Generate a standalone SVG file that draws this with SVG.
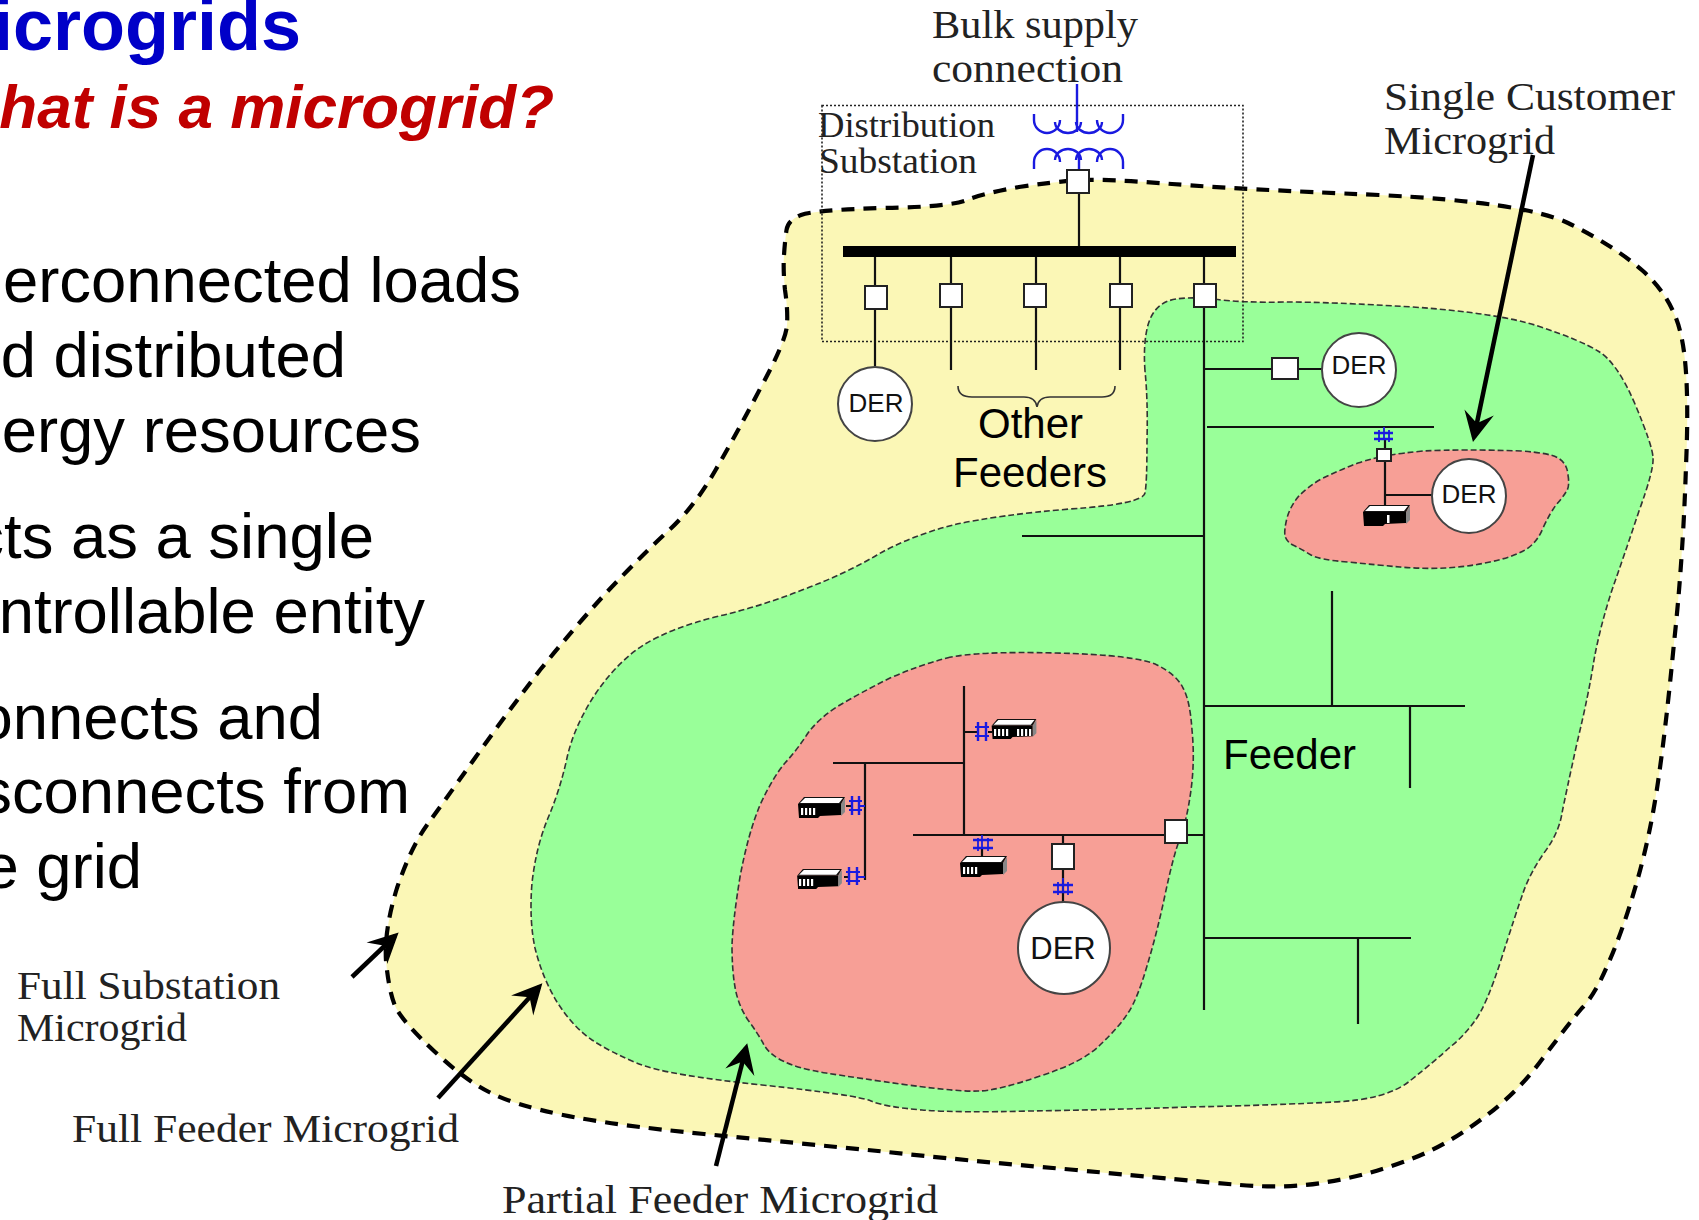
<svg xmlns="http://www.w3.org/2000/svg" xmlns:xlink="http://www.w3.org/1999/xlink" width="1699" height="1220" viewBox="0 0 1699 1220">
<style>
.ser{font-family:"Liberation Serif","DejaVu Serif",serif;fill:#222}
.san{font-family:"Liberation Sans",Arial,sans-serif;fill:#000}
.body{font-size:63.400px;text-anchor:end}
.big{font-size:42px}
.der{font-size:26px;text-anchor:middle;fill:#111}
.blob{stroke:#333;stroke-width:1.6;stroke-dasharray:6 3}
.w{fill:none;stroke:#111;stroke-width:2.2}
.bl{fill:none;stroke:#1a1ae0;stroke-width:2.4}
.sw{fill:#fff;stroke:#222;stroke-width:2}
.c{fill:#fff;stroke:#444;stroke-width:2}
.ar{fill:none;stroke:#000;stroke-width:4.5}
</style>
<defs>
<marker id="head" markerUnits="userSpaceOnUse" markerWidth="40" markerHeight="34" viewBox="0 0 40 34" refX="26" refY="17" orient="auto"><path d="M31,17 L1,2 L12,17 L1,32 Z" fill="#000"/></marker>
<symbol id="load" viewBox="0 0 48 21" overflow="visible">
<path d="M43,7 L47,1 L47,15 L43,19 Z" fill="#888"/>
<path d="M0,7 L43,7 L43,18 L22,19 L20,21 L1,21 Z" fill="#000"/>
<path d="M0,7 L6,0 L47,0 L43,7 Z" fill="#111"/>
<path d="M2,6 L7,1 L45,1 L41,6 Z" fill="#fff"/>
</symbol>
<g id="slots"><rect x="0" y="0" width="2.2" height="7" fill="#fff"/><rect x="4" y="0" width="2.2" height="7" fill="#fff"/><rect x="8" y="0" width="2.2" height="7" fill="#fff"/><rect x="12" y="0" width="2.2" height="7" fill="#fff"/></g>
</defs>

<g id="title">
<text class="san" x="301" y="50" font-size="72" font-weight="700" text-anchor="end" style="fill:#0000c8">icrogrids</text>
<text class="san" x="554" y="128" font-size="62" font-weight="700" font-style="italic" text-anchor="end" style="fill:#c00000">hat is a microgrid?</text>
</g>
<g id="bullets">
<text class="san body" x="521" y="302">erconnected loads</text>
<text class="san body" x="346" y="377">d distributed</text>
<text class="san body" x="421" y="452">ergy resources</text>
<text class="san body" x="374" y="558">cts as a single</text>
<text class="san body" x="425" y="633">ntrollable entity</text>
<text class="san body" x="323" y="739">onnects and</text>
<text class="san body" x="410" y="813">sconnects from</text>
<text class="san body" x="142" y="888">e grid</text>
</g>

<g id="full-substation-microgrid"><path fill="#fbf7b6" stroke="#000" stroke-width="4.200" stroke-dasharray="13 9" d="M784,255 Q785,240 786.5,230 Q788,220 801,215 Q815,210 882,208 Q950,207 967,200 Q985,193 1019,187 Q1053,182 1081,180 Q1110,179 1172,184 Q1235,189 1379,195 Q1523,202 1568,223 Q1613,245 1643,271 Q1673,298 1681,335 Q1690,373 1686,466 Q1683,560 1674,643 Q1666,727 1658,782 Q1650,837 1636,885 Q1622,933 1608,964 Q1595,995 1582,1008 Q1570,1022 1543,1058 Q1517,1094 1479,1121 Q1441,1149 1403,1162 Q1365,1176 1327,1182 Q1289,1189 1240,1185 Q1192,1181 1076,1170 Q960,1160 878,1151 Q796,1143 704,1134 Q612,1125 563,1115 Q514,1105 489,1092 Q465,1080 434,1051 Q404,1023 396,1008 Q389,993 386,961 Q384,930 397,888 Q411,847 427,825 Q443,803 475,758 Q507,713 540,670 Q574,628 606,593 Q639,558 666,533 Q693,509 715,471 Q737,433 761,387 Q786,341 787,325 Q788,310 785,290 Q783,270 784,255 Z"/></g>
<g id="full-feeder-microgrid"><path class="blob" fill="#99ff99" d="M1145,371 Q1143,343 1148,325 Q1153,307 1168,301 Q1183,296 1213,299 Q1243,303 1286,302 Q1330,302 1413,307 Q1497,313 1538,326 Q1580,340 1598,351 Q1617,362 1635,404 Q1653,447 1653,458 Q1654,470 1639,511 Q1625,553 1612,590 Q1600,627 1594,660 Q1589,693 1577,743 Q1566,793 1562,813 Q1559,833 1544,853 Q1530,873 1523,893 Q1516,913 1501,960 Q1486,1007 1474,1022 Q1463,1037 1449,1048 Q1436,1060 1411,1080 Q1387,1100 1333,1102 Q1280,1105 1190,1107 Q1100,1110 1030,1111 Q960,1113 922,1110 Q885,1107 871,1101 Q857,1095 762,1085 Q667,1075 639,1064 Q612,1053 592,1040 Q573,1027 557,1002 Q542,977 535,948 Q529,920 532,883 Q536,847 548,818 Q560,790 567,758 Q574,726 596,693 Q618,661 645,644 Q672,628 715,617 Q759,607 802,590 Q845,574 877,555 Q910,536 953,525 Q997,515 1070,509 Q1143,504 1145,493 Q1147,483 1147,441 Q1148,400 1145,371 Z"/></g>
<g id="partial-feeder-microgrid"><path class="blob" fill="#f79f96" d="M947,658 Q975,651 1056,653 Q1137,655 1157,665 Q1177,675 1183,688 Q1190,700 1192,730 Q1195,760 1191,790 Q1187,820 1180,838 Q1173,857 1165,895 Q1157,933 1147,966 Q1137,1000 1128,1013 Q1119,1027 1101,1044 Q1084,1062 1040,1076 Q997,1091 978,1091 Q960,1092 908,1085 Q857,1078 826,1073 Q796,1068 783,1061 Q770,1055 764,1045 Q759,1035 748,1020 Q738,1005 735,987 Q732,970 732,945 Q733,920 740,877 Q748,834 760,805 Q773,777 785,763 Q797,750 808,733 Q820,717 840,705 Q860,693 890,678 Q920,665 947,658Z"/></g>
<g id="single-customer-microgrid"><path class="blob" fill="#f79f96" d="M1390,455 Q1403,453 1423,451 Q1443,450 1468,450 Q1493,450 1521,451 Q1550,453 1558,458 Q1567,463 1568,475 Q1570,487 1566,492 Q1563,497 1556,505 Q1550,513 1543,528 Q1537,543 1525,550 Q1513,557 1490,562 Q1467,567 1445,568 Q1423,569 1400,567 Q1377,565 1348,562 Q1320,560 1311,555 Q1303,550 1295,546 Q1287,543 1285,536 Q1284,530 1287,518 Q1290,507 1298,497 Q1307,487 1323,478 Q1340,470 1358,463 Q1377,457 1390,455Z"/></g>

<g id="substation-box"><rect x="822" y="105.500" width="421" height="236" fill="none" stroke="#222" stroke-width="1.6" stroke-dasharray="2 2"/></g>

<g id="connectors">
<path class="w" d="M1079,193V246M875,257V366M951,257V370M1036,257V370M1120,257V370M1204,257V1010"/>
<path class="w" d="M1204,369H1322M1207,427H1434M1022,536H1204M1204,706H1465M1332,591V706M1410,706V788M1204,938H1411M1358,938V1024"/>
<path class="w" d="M913,835H1204M964,686V835M833,763H964M865,763V880M964,732H978M988,732H992M846,806H852M844,877H849M982,849V856M1063,835V902"/>
<path class="w" d="M1385,439V505M1385,495H1432"/>
<path d="M958,386 C958,394 964,397 972,397 H1024 C1032,397 1036,400 1037,407 C1038,400 1042,397 1050,397 H1102 C1110,397 1115,394 1115,386" fill="none" stroke="#333" stroke-width="1.6"/>
<path class="ar" marker-end="url(#head)" d="M1533,155L1474,437"/>
<path class="ar" marker-end="url(#head)" d="M352,977L395,936"/>
<path class="ar" marker-end="url(#head)" d="M438,1098L539,987"/>
<path class="ar" marker-end="url(#head)" d="M716,1166L746,1048"/>
</g>

<g id="transformer">
<path class="bl" d="M1077,84V132M1034,114V120a13,13 0 0 0 26,0M1055,122a13,11 0 0 0 26,0M1076,122a13,11 0 0 0 26,0M1097,120a13,13 0 0 0 26,0V114"/>
<path class="bl" d="M1034,169V162a13,13 0 0 1 26,0M1055,160a13,11 0 0 1 26,0M1076,160a13,11 0 0 1 26,0M1097,162a13,13 0 0 1 26,0V169M1079,152V170"/>
</g>

<g id="bus"><rect x="843" y="246" width="393" height="11" fill="#000"/></g>
<g id="switch-main"><rect class="sw" x="1067" y="170" width="22" height="23"/></g>
<g id="switch-f1"><rect class="sw" x="865" y="286" width="22" height="23"/></g>
<g id="switch-f2"><rect class="sw" x="940" y="284" width="22" height="23"/></g>
<g id="switch-f3"><rect class="sw" x="1024" y="284" width="22" height="23"/></g>
<g id="switch-f4"><rect class="sw" x="1110" y="284" width="22" height="23"/></g>
<g id="switch-f5"><rect class="sw" x="1194" y="284" width="22" height="23"/></g>
<g id="switch-der2"><rect class="sw" x="1272" y="358" width="26" height="21"/></g>
<g id="switch-partial"><rect class="sw" x="1165" y="820" width="22" height="23"/></g>
<g id="switch-der4"><rect class="sw" x="1052" y="844" width="22" height="25"/></g>
<g id="switch-single"><rect class="sw" x="1377" y="449" width="14" height="12"/></g>

<g id="der-1"><circle class="c" cx="875" cy="404" r="37"/><text class="san der" x="876" y="412">DER</text></g>
<g id="der-2"><circle class="c" cx="1359" cy="370" r="37"/><text class="san der" x="1359" y="374">DER</text></g>
<g id="der-3"><circle class="c" cx="1469" cy="496" r="37"/><text class="san der" x="1469" y="503">DER</text></g>
<g id="der-4"><circle class="c" cx="1064" cy="948" r="46"/><text class="san der" x="1063" y="959" style="font-size:31px">DER</text></g>

<g id="couplers" fill="none" stroke="#1a1ae0" stroke-width="2.4">
<path d="M978,722V741M986,722V741M852,796V815M859,796V815M849,867V885M857,867V885M973,840H993M973,848H993M1053,885H1073M1053,892H1073M1374,433H1393M1374,439H1393"/>
<path stroke-width="1.800" d="M975,727h14M975,736h14M849,801h13M849,810h13M859,806H865M846,872h14M846,881h14M857,877H865M982,835V849M978,838v13M988,838v13M1063,878V892M1058,882v13M1068,882v13M1384,427V439M1379,430v12M1389,430v12"/>
</g>

<g id="load-1"><use href="#load" x="991" y="719" width="47" height="20"/><use href="#slots" x="994" y="729"/><use href="#slots" x="1017" y="729"/></g>
<g id="load-2"><use href="#load" x="798" y="797" width="48" height="21"/><use href="#slots" x="801" y="808"/></g>
<g id="load-3"><use href="#load" x="796" y="869" width="48" height="20"/><use href="#slots" x="799" y="879"/></g>
<g id="load-4"><use href="#load" x="960" y="856" width="48" height="21"/><use href="#slots" x="963" y="867"/></g>
<g id="load-5"><use href="#load" x="1363" y="505" width="48" height="21"/><rect x="1387" y="515" width="2.500" height="8" fill="#fff"/></g>

<g id="labels">
<text class="ser" x="932" y="38" font-size="41" textLength="206" lengthAdjust="spacingAndGlyphs">Bulk supply</text>
<text class="ser" x="932" y="82" font-size="41" textLength="191" lengthAdjust="spacingAndGlyphs">connection</text>
<text class="ser" x="818" y="137" font-size="35" textLength="177" lengthAdjust="spacingAndGlyphs">Distribution</text>
<text class="ser" x="819" y="173" font-size="35" textLength="158" lengthAdjust="spacingAndGlyphs">Substation</text>
<text class="ser" x="1384" y="110" font-size="41" textLength="291" lengthAdjust="spacingAndGlyphs">Single Customer</text>
<text class="ser" x="1384" y="154" font-size="41" textLength="171" lengthAdjust="spacingAndGlyphs">Microgrid</text>
<text class="ser" x="17" y="999" font-size="41" textLength="263" lengthAdjust="spacingAndGlyphs">Full Substation</text>
<text class="ser" x="17" y="1041" font-size="41" textLength="170" lengthAdjust="spacingAndGlyphs">Microgrid</text>
<text class="ser" x="72" y="1142" font-size="41" textLength="387" lengthAdjust="spacingAndGlyphs">Full Feeder Microgrid</text>
<text class="ser" x="502" y="1213" font-size="41" textLength="436" lengthAdjust="spacingAndGlyphs">Partial Feeder Microgrid</text>
<text class="san big" x="978" y="438">Other</text>
<text class="san big" x="953" y="487">Feeders</text>
<text class="san big" x="1223" y="769">Feeder</text>
</g>
</svg>
